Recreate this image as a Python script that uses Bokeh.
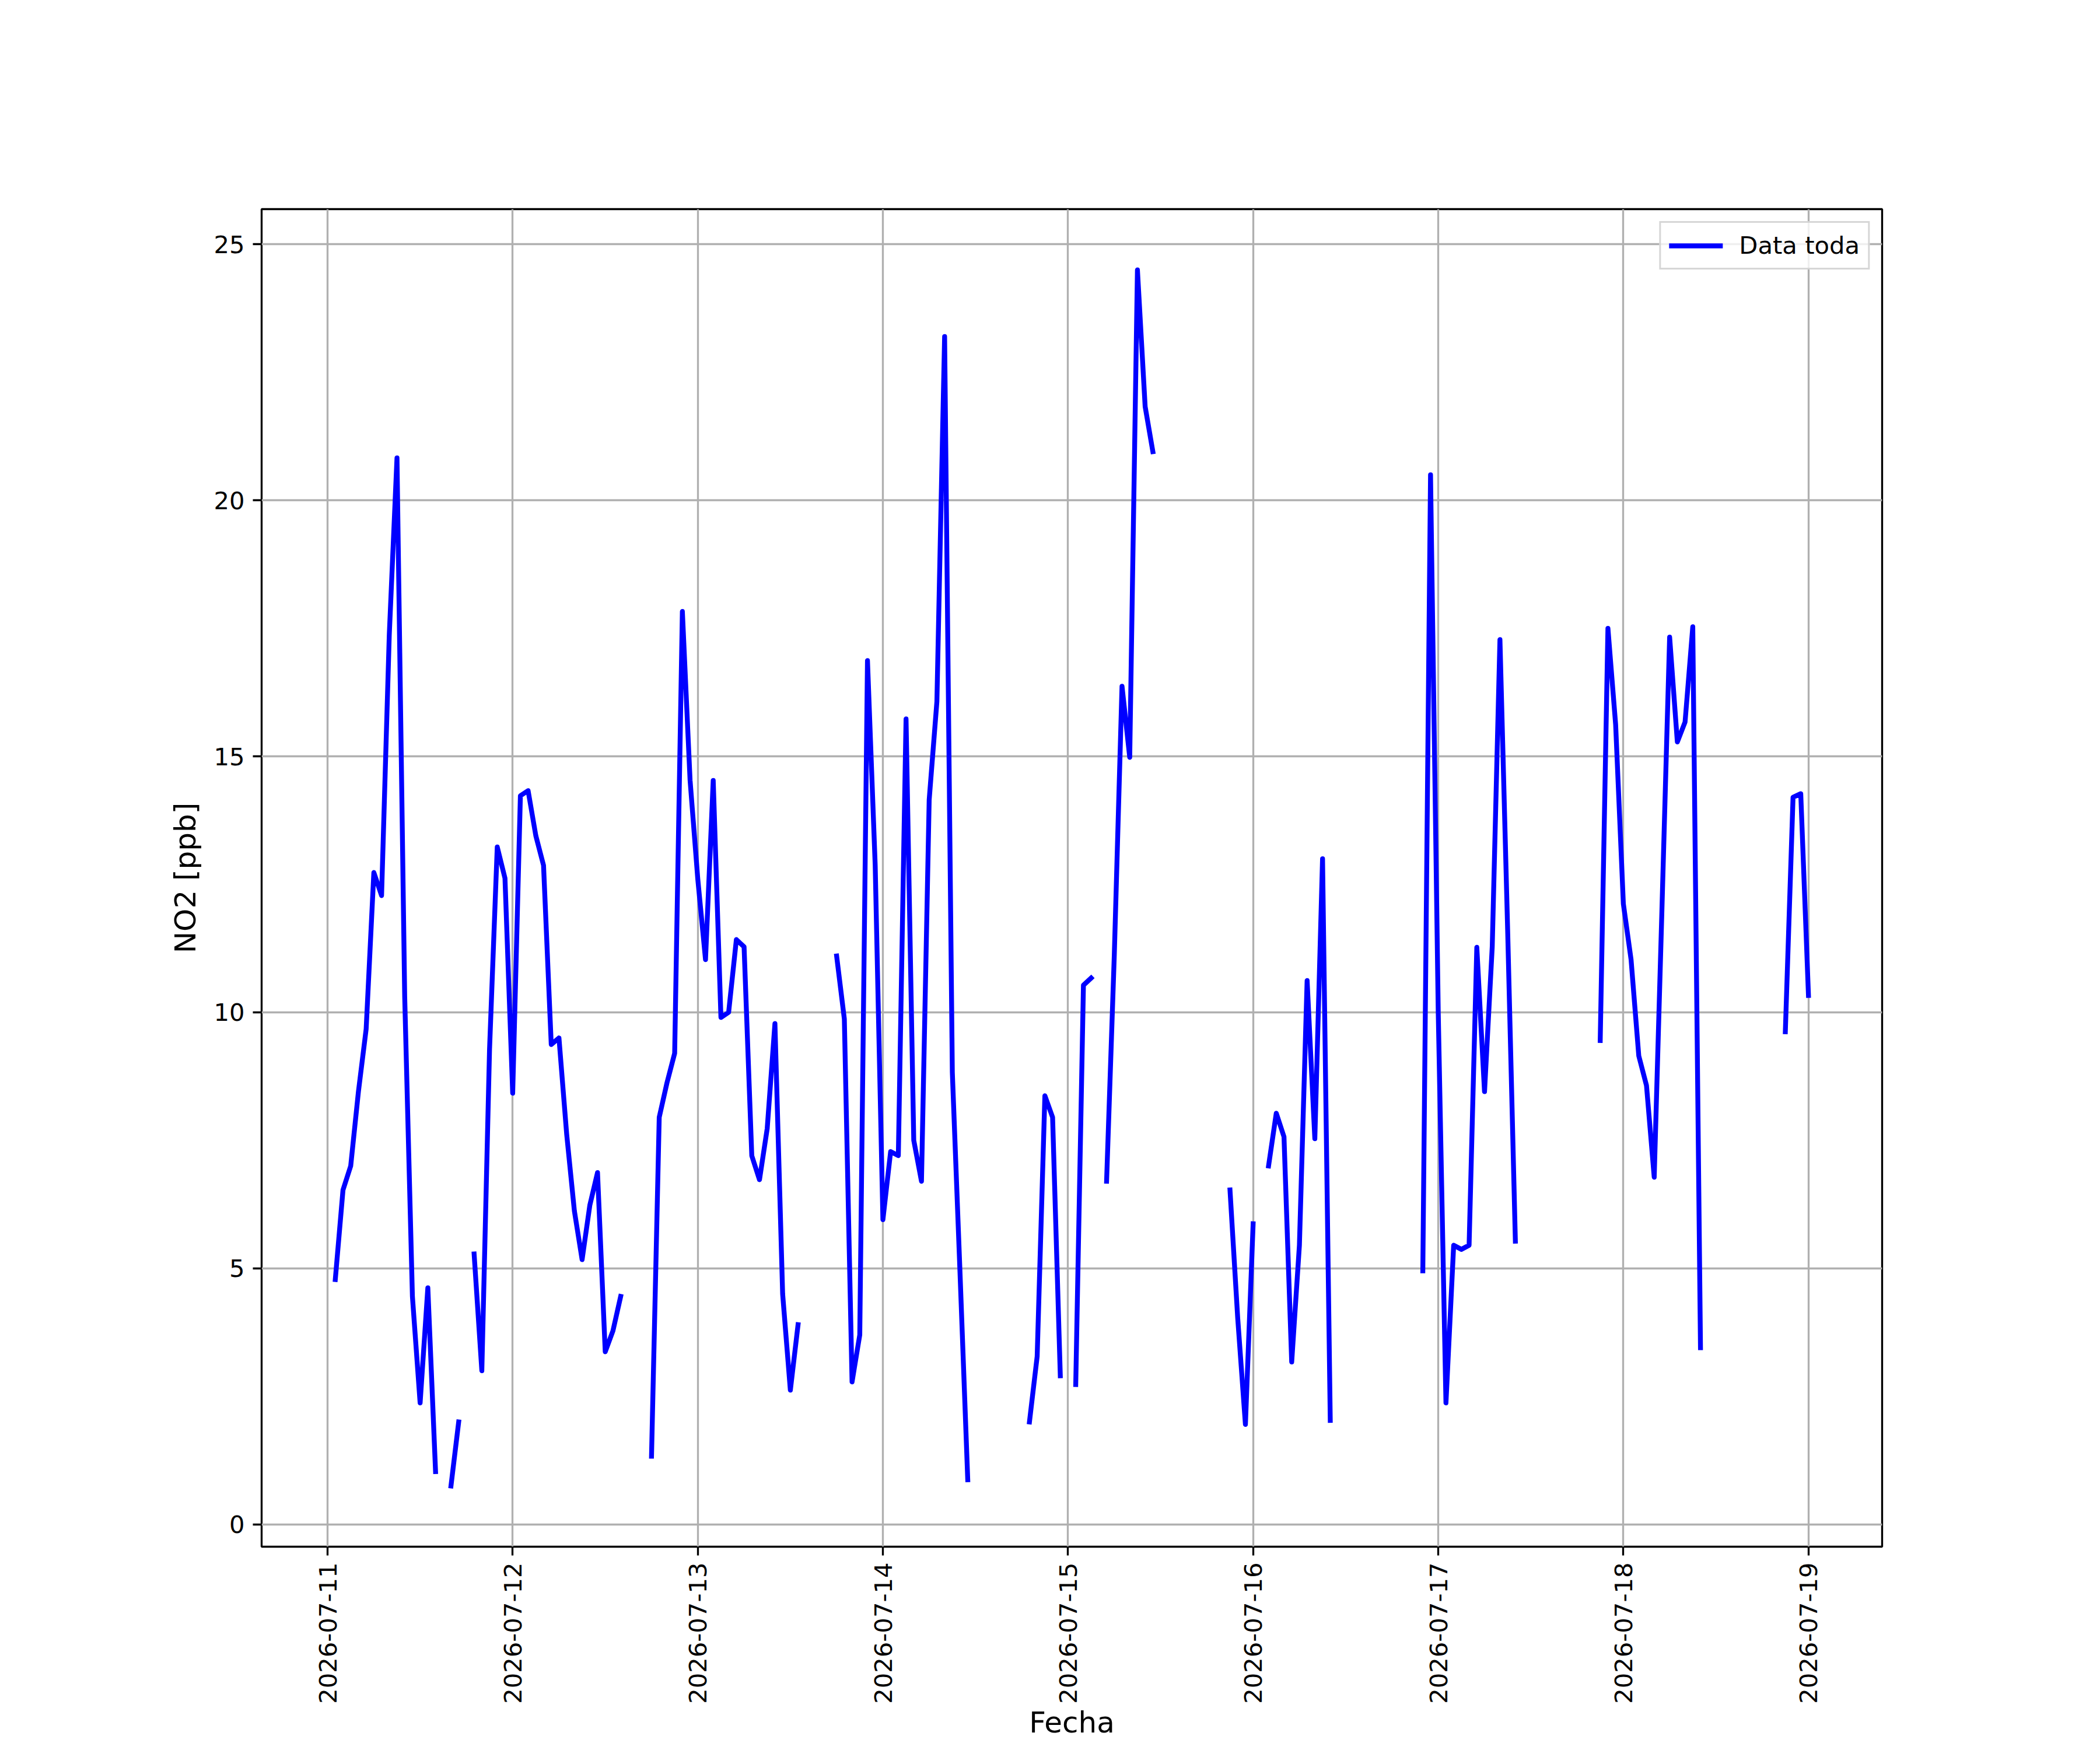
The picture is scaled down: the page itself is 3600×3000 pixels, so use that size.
import math
import numpy as np
import pandas as pd
from bokeh.plotting import figure
from bokeh.models import ColumnDataSource, Range1d, FixedTicker, DatetimeTickFormatter
from bokeh.embed import file_html
from bokeh.resources import INLINE

nan = float("nan")

# Hourly NO2 [ppb]; series starts 2026-07-11 01:00
start_time = "2026-07-11 01:00"
d0711 = [4.78, 6.53, 7.0, 8.45, 9.67, 12.73, 12.28, 17.37, 20.83, 10.3, 4.45, 2.37,
         4.62, 1.03, nan, 0.75, 2.0, nan, 5.28, 3.0, 9.28, 13.23, 12.62]
d0712 = [8.42, 14.23, 14.33, 13.45, 12.87, 9.37, 9.5, 7.62, 6.12, 5.17, 6.23, 6.87,
         3.37, 3.78, 4.45, nan, nan, nan, 1.33, 7.95, 8.62, 9.2, 17.83, 14.53]
d0713 = [12.6, 11.03, 14.53, 9.9, 10.0, 11.42, 11.28, 7.2, 6.73, 7.73, 9.78, 4.5,
         2.62, 3.9, nan, nan, nan, nan, 11.1, 9.87, 2.78, 3.7, 16.87, 12.87]
d0714 = [5.95, 7.28, 7.2, 15.73, 7.5, 6.7, 14.15, 16.07, 23.2, 8.83, 4.9, 0.87,
         nan, nan, nan, nan, nan, nan, nan, 2.0, 3.28, 8.37, 7.95, 2.9]
d0715 = [nan, 2.73, 10.53, 10.67, nan, 6.7, 11.12, 16.37, 14.98, 24.5, 21.83, 20.95,
         nan, nan, nan, nan, nan, nan, nan, nan, nan, 6.53, 4.03, 1.95]
d0716 = [5.87, nan, 7.0, 8.03, 7.57, 3.17, 5.45, 10.62, 7.53, 13.0, 2.03, nan,
         nan, nan, nan, nan, nan, nan, nan, nan, nan, nan, 4.95, 20.5]
d0717 = [10.0, 2.37, 5.45, 5.37, 5.45, 11.27, 8.45, 11.28, 17.28, 11.6, 5.53, nan,
         nan, nan, nan, nan, nan, nan, nan, nan, nan, 9.45, 17.5, 15.62]
d0718 = [12.12, 11.03, 9.15, 8.57, 6.78, 12.0, 17.33, 15.28, 15.67, 17.53, 3.45, nan,
         nan, nan, nan, nan, nan, nan, nan, nan, nan, 9.62, 14.2, 14.27]
d0719 = [10.33]

tick_dates = ["2026-07-11", "2026-07-12", "2026-07-13", "2026-07-14", "2026-07-15",
              "2026-07-16", "2026-07-17", "2026-07-18", "2026-07-19"]
y_ticks = [0, 5, 10, 15, 20, 25]
legend_text = "Data toda"
x_label = "Fecha"
y_label = "NO2 [ppb]"

values = np.array(d0711 + d0712 + d0713 + d0714 + d0715 + d0716 + d0717 + d0718 + d0719, dtype=float)
times = pd.date_range(start_time, periods=len(values), freq="h")
t_ms = (times.values.astype("datetime64[ms]").astype("int64")).astype(float)

source = ColumnDataSource(dict(t=t_ms, v=values))

# matplotlib-like autoscale with 5% margins
ok = np.isfinite(values)
tmin, tmax = t_ms[ok].min(), t_ms[ok].max()
vmin, vmax = values[ok].min(), values[ok].max()
x0 = tmin - 0.05 * (tmax - tmin)
x1 = tmax + 0.05 * (tmax - tmin)
y0 = vmin - 0.05 * (vmax - vmin)
y1 = vmax + 0.05 * (vmax - vmin)

W, H = 3584, 2984
FL, FT, FW, FH = 448, 358, 2778, 2300

p = figure(width=W, height=H, x_axis_type="datetime", output_backend="svg",
           toolbar_location=None, x_range=Range1d(x0, x1), y_range=Range1d(y0, y1),
           min_border_left=FL, min_border_top=FT,
           min_border_right=W - FL - FW, min_border_bottom=H - FT - FH)
p.background_fill_color = "white"
p.border_fill_color = "white"
p.outline_line_color = "black"
p.outline_line_width = 3.33
p.outline_line_alpha = 1.0

p.line(x="t", y="v", source=source, line_color="#0000ff", line_width=8.33,
       line_cap="square", line_join="round", legend_label=legend_text)

day_ms = [float(pd.Timestamp(d).value // 10**6) for d in tick_dates]
p.xaxis.ticker = FixedTicker(ticks=day_ms)
fmt = "%Y-%m-%d"
p.xaxis.formatter = DatetimeTickFormatter(microseconds=fmt, milliseconds=fmt, seconds=fmt,
                                          minsec=fmt, minutes=fmt, hourmin=fmt, hours=fmt,
                                          days=fmt, months=fmt, years=fmt)
p.xaxis.major_label_orientation = math.pi / 2
p.yaxis.ticker = FixedTicker(ticks=y_ticks)

for ax in (p.xaxis[0], p.yaxis[0]):
    ax.axis_line_color = None
    ax.major_tick_line_color = "black"
    ax.major_tick_line_width = 3.33
    ax.major_tick_out = 15
    ax.major_tick_in = 0
    ax.minor_tick_out = 0
    ax.minor_tick_in = 0
    ax.major_label_standoff = 14
    ax.major_label_text_font = "DejaVu Sans"
    ax.major_label_text_font_size = "41.7px"
    ax.major_label_text_color = "black"
    ax.axis_label_text_font = "DejaVu Sans"
    ax.axis_label_text_font_size = "50px"
    ax.axis_label_text_font_style = "normal"
    ax.axis_label_text_color = "black"

xa = p.xaxis[0]
xa.major_label_standoff = 12
xa.axis_label = x_label
xa.axis_label_standoff = 0

ya = p.yaxis[0]
ya.axis_label = y_label
ya.axis_label_standoff = 16

for g in (p.xgrid[0], p.ygrid[0]):
    g.grid_line_color = "#b0b0b0"
    g.grid_line_width = 3.33

lg = p.legend[0]
lg.location = "top_right"
lg.margin = 21
lg.padding = 14
lg.spacing = 0
lg.glyph_width = 92
lg.glyph_height = 48
lg.label_height = 48
lg.label_standoff = 28
lg.label_text_font = "DejaVu Sans"
lg.label_text_font_size = "41.7px"
lg.label_text_color = "black"
lg.border_line_color = "#cccccc"
lg.border_line_alpha = 0.8
lg.border_line_width = 3.33
lg.background_fill_color = "white"
lg.background_fill_alpha = 0.8

open("out.html", "w").write(file_html(p, INLINE))
